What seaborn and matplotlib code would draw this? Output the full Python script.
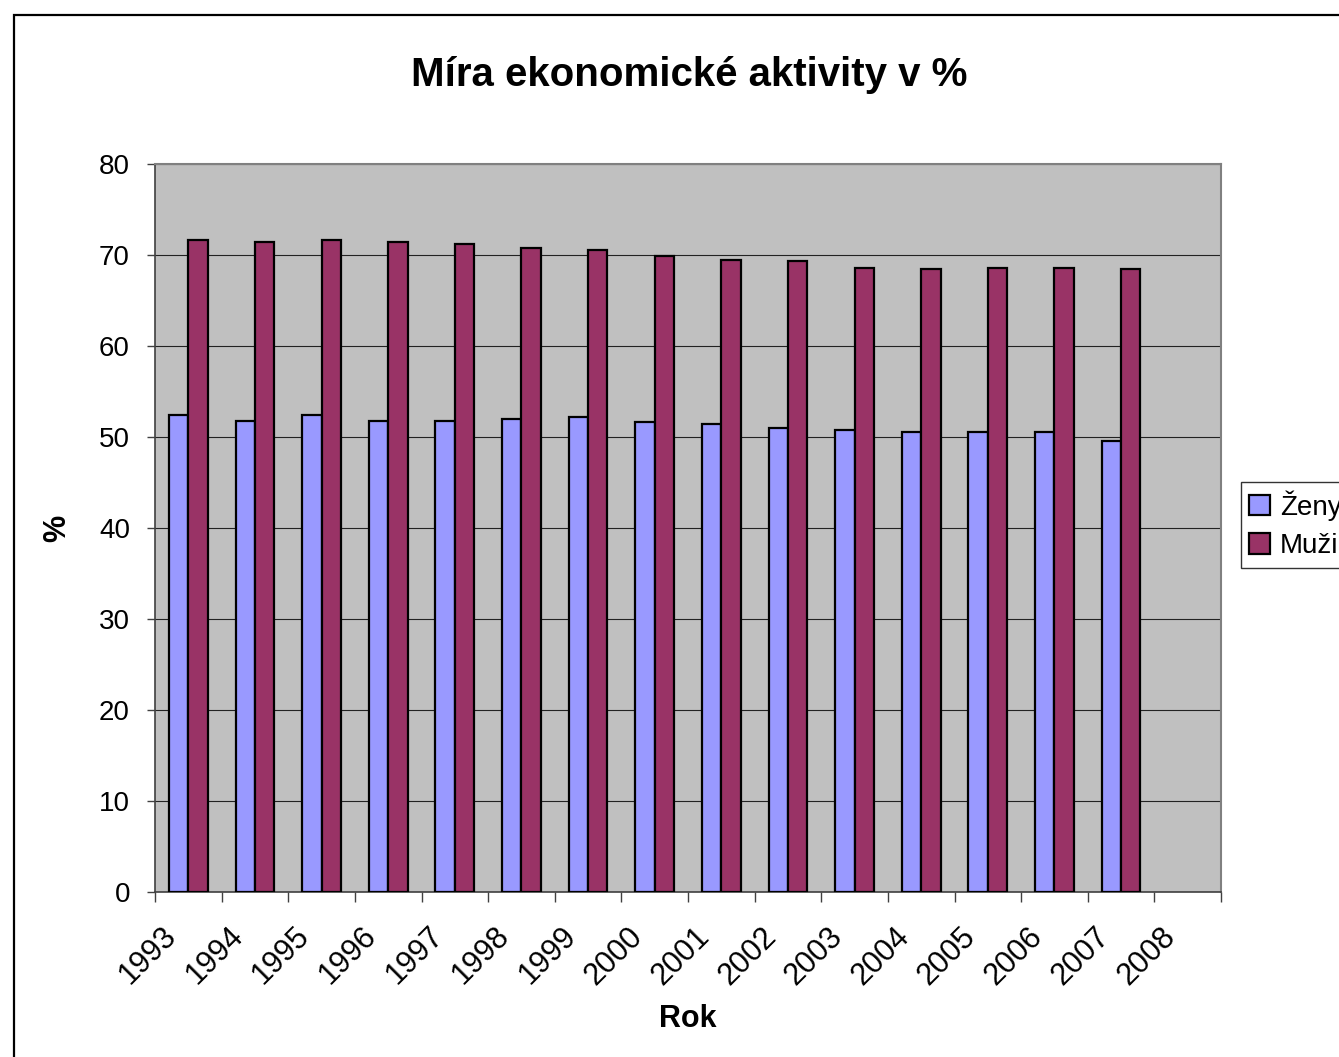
import matplotlib
matplotlib.use("Agg")
import matplotlib.pyplot as plt
import matplotlib.transforms as mtransforms
from matplotlib.patches import Rectangle
import numpy as np
import pandas as pd
import seaborn as sns

# ---- data ----
years = ["1993", "1994", "1995", "1996", "1997", "1998", "1999", "2000",
         "2001", "2002", "2003", "2004", "2005", "2006", "2007", "2008"]
zeny = [52.4, 51.8, 52.4, 51.8, 51.8, 52.0, 52.2, 51.6,
        51.4, 51.0, 50.8, 50.6, 50.6, 50.6, 49.6, np.nan]
muzi = [71.6, 71.4, 71.6, 71.4, 71.2, 70.8, 70.6, 69.9,
        69.4, 69.3, 68.6, 68.5, 68.6, 68.6, 68.5, np.nan]
series_names = ["Ženy", "Muži"]
series_colors = ["#9999FF", "#993366"]
yticks = [0, 10, 20, 30, 40, 50, 60, 70, 80]
title = "Míra ekonomické aktivity v %"
xlabel = "Rok"
ylabel = "%"

df = pd.DataFrame({
    "Rok": years * 2,
    "Hodnota": zeny + muzi,
    "Pohlaví": [series_names[0]] * len(years) + [series_names[1]] * len(years),
})

sns.set_style("white")
plt.rcParams["font.family"] = ["Liberation Sans", "DejaVu Sans"]
plt.rcParams["text.color"] = "black"
plt.rcParams["axes.labelcolor"] = "black"
plt.rcParams["xtick.labelcolor"] = "black"
plt.rcParams["ytick.labelcolor"] = "black"

W, H = 1339, 1057
fig = plt.figure(figsize=(W / 100, H / 100), dpi=100)
fig.patch.set_facecolor("white")

# outer chart border (clipped by figure edges on right/bottom)
fig.patches.append(Rectangle((13.5 / W, -0.1), 1.2, 1 - 14.5 / H + 0.1,
                             transform=fig.transFigure, fill=False,
                             edgecolor="black", linewidth=1.6, zorder=0))

ax = fig.add_axes([155 / W, 1 - 892 / H, (1221 - 155) / W, (892 - 164) / H])
ax.set_facecolor("#C0C0C0")

sns.barplot(data=df, x="Rok", y="Hodnota", hue="Pohlaví", order=years,
            hue_order=series_names, palette=series_colors, width=0.58,
            edgecolor="black", linewidth=1.6, saturation=1, ax=ax, zorder=3)

ax.set_xlim(-0.5, len(years) - 0.5)
ax.set_ylim(0, 80)
ax.set_yticks(yticks)
ax.set_yticklabels([str(v) for v in yticks])

# grid
ax.set_axisbelow(True)
ax.yaxis.grid(True, color="#222222", linewidth=0.8)
ax.xaxis.grid(False)

# spines
for s in ["top", "right"]:
    ax.spines[s].set_visible(True)
    ax.spines[s].set_color("#808080")
    ax.spines[s].set_linewidth(1.5)
for s in ["left", "bottom"]:
    ax.spines[s].set_visible(True)
    ax.spines[s].set_color("#404040")
    ax.spines[s].set_linewidth(1.2)

# ticks
ax.tick_params(axis="y", which="major", direction="out", length=6, width=1,
               color="#404040", labelsize=20, pad=12, left=True)
ax.set_xticks(np.arange(len(years)))
ax.set_xticklabels(years, rotation=45, ha="right", va="top",
                   rotation_mode="anchor")
ax.tick_params(axis="x", which="major", length=0, labelsize=22, pad=21)
ax.set_xticks(np.arange(len(years) + 1) - 0.5, minor=True)
ax.tick_params(axis="x", which="minor", direction="out", length=7, width=1,
               color="#404040", bottom=True)
offset = mtransforms.ScaledTranslation(-27 / 100, 0, fig.dpi_scale_trans)
for lab in ax.get_xticklabels():
    lab.set_transform(lab.get_transform() + offset)

# labels
ax.set_xlabel(xlabel, fontsize=22, fontweight="bold")
ax.xaxis.set_label_coords(0.5, (892 - 1004) / (892 - 164))
ax.set_ylabel(ylabel, fontsize=22, fontweight="bold")
ax.yaxis.set_label_coords((72 - 155) / (1221 - 155), 0.5)

fig.text(689.5 / W, 1 - 75 / H, title, ha="center", va="center",
         fontsize=29, fontweight="bold")

# legend
handles, labels = ax.get_legend_handles_labels()
if ax.get_legend() is not None:
    ax.get_legend().remove()
leg = fig.legend(handles, labels, loc="upper left",
                 bbox_to_anchor=(1241 / W, 1 - 482 / H),
                 bbox_transform=fig.transFigure, fontsize=20,
                 frameon=True, fancybox=False, edgecolor="black",
                 handlelength=0.75, handleheight=0.75, handletextpad=0.35,
                 borderpad=0.3, labelspacing=0.45, borderaxespad=0)
leg.get_frame().set_linewidth(1.0)

fig.savefig("out.png", dpi=100, facecolor="white")
